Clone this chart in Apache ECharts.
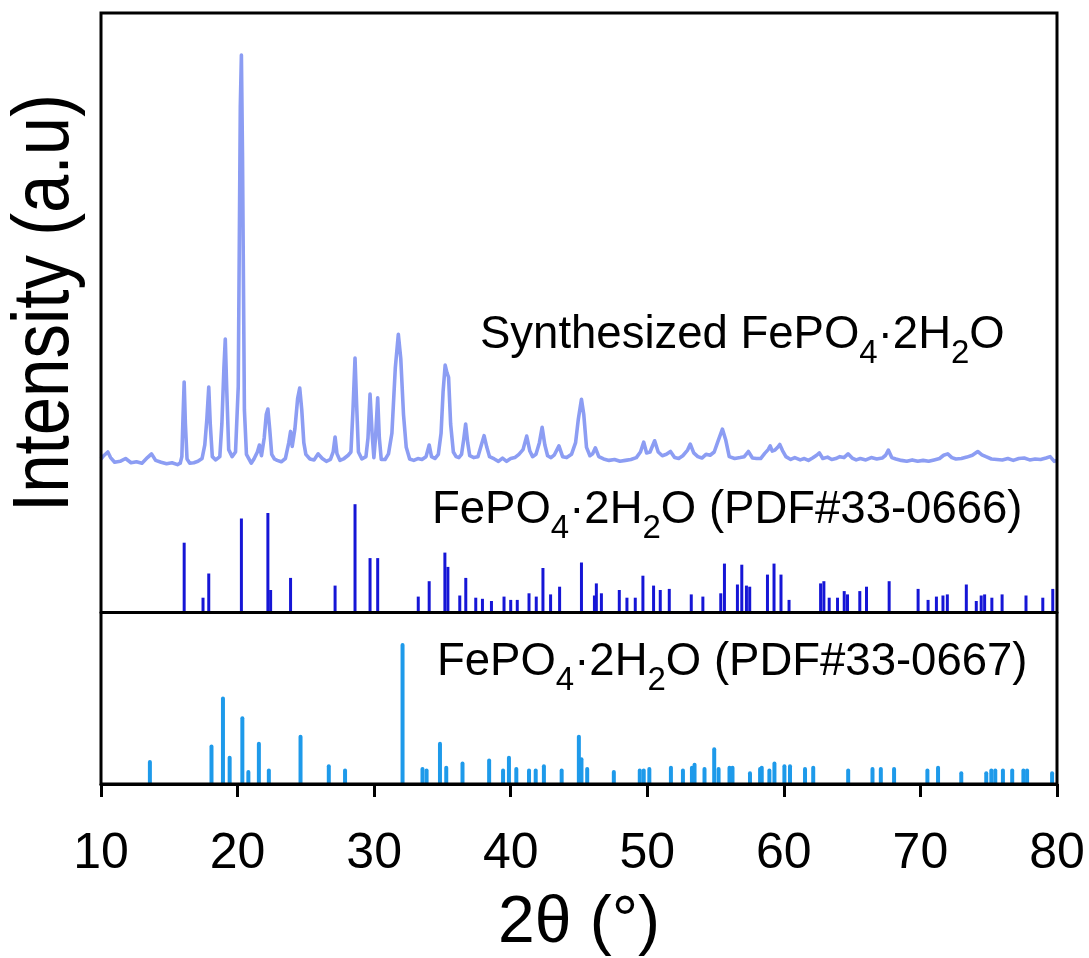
<!DOCTYPE html>
<html>
<head>
<meta charset="utf-8">
<script src="https://cdn.jsdelivr.net/npm/echarts@6/dist/echarts.min.js"></script>
<style>html,body{margin:0;padding:0;background:#fff}#c{width:1089px;height:958px}</style>
</head>
<body>
<div id="c"></div>
<script>
// ---------- data ----------
const xTicks = [10, 20, 30, 40, 50, 60, 70, 80];

// Synthesized FePO4·2H2O pattern: [2θ, intensity]
const xrdPattern = [
[10.0,4.5],[10.2,5.2],[10.5,6.0],[10.7,4.8],[11.0,3.8],[11.4,4.0],[11.8,4.6],[12.2,3.7],[12.6,3.9],[13.0,3.6],
[13.4,4.8],[13.7,5.6],[14.0,4.2],[14.4,3.8],[14.8,3.5],[15.2,3.7],[15.6,3.3],[15.8,3.6],
[15.92,5.0],[16.0,13],[16.09,21.0],[16.18,12],[16.3,4.5],[16.5,3.6],[16.8,3.7],[17.1,4.0],[17.4,4.6],
[17.6,7.5],[17.75,13],[17.89,19.9],[18.0,12],[18.15,5.0],[18.4,4.3],[18.7,5.0],[18.85,12],
[19.0,24],[19.1,30.2],[19.2,20],[19.35,6.5],[19.6,5.0],[19.85,6.0],[20.05,20],[20.2,80],[20.28,91.0],[20.36,70],
[20.5,15],[20.65,5.5],[20.8,4.7],[21.0,3.6],[21.2,4.5],[21.45,6.0],[21.6,7.5],[21.75,5.2],[21.95,9],[22.1,14],
[22.22,15.2],[22.35,11],[22.5,5.5],[22.7,4.5],[22.9,4.2],[23.2,3.9],[23.5,4.6],[23.75,8.0],[23.88,10.4],[24.0,7.2],
[24.2,11],[24.4,17.5],[24.55,19.7],[24.7,15],[24.85,8],[25.0,5.5],[25.3,4.5],[25.6,4.3],[25.9,5.6],[26.2,4.6],
[26.5,4.0],[26.8,4.4],[27.0,6.0],[27.14,9.2],[27.28,5.6],[27.5,4.2],[27.8,4.6],[28.1,5.3],[28.3,6.0],[28.45,15],
[28.6,26.1],[28.72,16],[28.85,6.0],[29.1,4.5],[29.4,5.0],[29.55,9],[29.7,18.4],[29.85,10],[29.98,4.8],[30.1,9],
[30.26,17.6],[30.38,9],[30.52,4.4],[30.8,4.4],[31.05,5.6],[31.3,10],[31.55,24],[31.77,31.2],[31.95,26],[32.15,14],
[32.35,7],[32.6,4.5],[32.9,4.2],[33.2,4.6],[33.5,4.4],[33.8,5.0],[34.03,7.5],[34.2,5.0],[34.45,4.6],[34.7,5.5],
[34.9,10],[35.05,19],[35.2,24.6],[35.33,23],[35.45,22],[35.6,12],[35.8,6.0],[36.0,5.0],[36.2,4.8],[36.4,5.5],
[36.55,8.5],[36.7,12.0],[36.85,8.0],[37.0,5.2],[37.3,4.8],[37.6,5.0],[37.85,7.5],[38.05,9.5],[38.25,7],[38.45,5.0],
[38.8,4.5],[39.1,4.0],[39.4,4.7],[39.7,4.0],[40.0,4.6],[40.3,4.8],[40.6,5.5],[40.9,6.5],[41.17,9.4],[41.4,6.2],
[41.6,5.0],[41.85,5.5],[42.1,8],[42.3,11.3],[42.5,7.5],[42.7,5.2],[42.95,4.8],[43.2,5.4],[43.53,7.3],[43.8,5.0],
[44.1,4.8],[44.45,5.5],[44.75,8],[44.95,13],[45.18,17.3],[45.35,14],[45.55,7],[45.8,5.2],[46.0,5.6],[46.2,6.9],
[46.45,5.0],[46.8,4.5],[47.2,4.2],[47.6,4.4],[48.0,4.0],[48.4,4.2],[48.8,4.4],[49.2,4.8],[49.5,6.0],[49.74,8.1],
[49.95,5.8],[50.2,6.0],[50.54,8.4],[50.8,6.0],[51.1,5.2],[51.4,5.5],[51.7,6.1],[52.0,4.8],[52.3,4.6],[52.6,5.2],
[52.95,6.4],[53.15,7.7],[53.4,5.8],[53.7,5.0],[54.0,4.7],[54.3,5.5],[54.6,5.3],[54.9,6.0],[55.2,8.5],[55.5,10.9],
[55.75,8.5],[56.0,5.0],[56.4,4.6],[56.8,4.8],[57.1,5.0],[57.4,6.1],[57.7,4.7],[58.0,4.6],[58.3,4.6],[58.6,5.7],
[58.85,6.5],[59.0,7.3],[59.15,6.2],[59.35,6.4],[59.55,7.0],[59.7,7.6],[59.9,6.3],[60.15,5.0],[60.5,4.4],[60.8,4.8],
[61.2,4.3],[61.5,4.6],[61.8,4.2],[62.1,4.7],[62.4,5.3],[62.6,5.8],[62.85,4.6],[63.2,4.9],[63.5,4.4],[63.8,4.6],
[64.1,5.0],[64.4,4.8],[64.7,5.6],[65.0,4.7],[65.3,4.3],[65.6,4.6],[66.0,4.3],[66.4,4.8],[66.8,4.5],[67.2,4.7],
[67.45,5.3],[67.65,6.4],[67.9,4.8],[68.2,4.5],[68.6,4.2],[69.0,4.0],[69.4,4.3],[69.8,4.0],[70.2,4.2],[70.6,4.0],
[71.0,4.3],[71.4,4.6],[71.7,5.3],[72.0,5.6],[72.3,4.8],[72.6,4.5],[73.0,4.6],[73.4,4.9],[73.8,5.3],[74.2,6.1],
[74.5,5.4],[74.8,5.0],[75.2,4.5],[75.6,4.4],[76.0,4.3],[76.4,4.6],[76.8,4.2],[77.2,4.6],[77.6,4.7],[78.0,4.3],
[78.4,4.5],[78.8,4.4],[79.2,4.7],[79.5,5.0],[79.8,4.0],[80.0,4.2]
];

// PDF#33-0666 reference lines: [2θ, relative intensity]
const pdf0666 = [
[16.09,63],[17.47,13],[17.89,35],[20.28,85],[22.22,90],[22.42,20],[23.88,31],[27.14,24],[28.60,98],[29.70,49],
[30.26,49],[33.23,14],[34.03,28],[35.18,54],[35.40,41],[36.27,15],[36.71,31],[37.44,13],[37.93,12],[38.59,10],
[39.51,14],[40.00,11],[40.48,11],[41.34,17],[41.87,14],[42.36,40],[42.92,16],[43.58,23],[45.18,45],[46.13,15],
[46.27,26],[46.64,17],[47.95,20],[48.51,13],[49.12,13],[49.68,33],[50.46,24],[50.95,20],[51.61,21],[53.22,16],
[54.07,14],[55.38,17],[55.65,44],[56.60,25],[56.92,43],[57.26,24],[57.50,23],[58.80,34],[59.28,44],[59.79,34],
[60.38,11],[62.69,26],[62.93,28],[63.32,13],[63.93,13],[64.42,19],[64.66,16],[65.56,19],[66.05,23],[67.71,28],
[69.83,21],[70.56,11],[71.17,14],[71.65,15],[71.97,16],[73.36,25],[74.09,10],[74.45,15],[74.70,16],[75.23,13],
[75.98,16],[77.73,15],[78.96,13],[79.69,21]
];

// PDF#33-0667 reference lines: [2θ, relative intensity]
const pdf0667 = [
[13.58,17],[18.09,28],[18.93,62],[19.42,20],[20.35,48],[20.79,10],[21.56,30],[22.29,11],[24.61,35],[26.68,14],
[27.87,11],[32.08,100],[33.54,12],[33.84,11],[34.82,30],[35.28,13],[36.47,16],[38.42,18],[39.44,11],[39.87,20],
[40.41,12],[41.34,11],[41.83,11],[42.43,14],[43.73,11],[44.99,35],[45.18,19],[45.60,12],[47.55,10],[49.45,11],
[49.74,11],[50.15,12],[51.73,13],[52.61,11],[53.27,13],[53.46,15],[54.19,12],[54.90,26],[55.22,12],[56.02,13],
[56.24,13],[57.52,9],[58.26,12],[58.38,13],[58.94,11],[59.31,16],[60.04,14],[60.45,14],[61.55,12],[62.15,13],
[64.71,11],[66.49,12],[67.10,12],[68.07,12],[70.51,11],[71.29,13],[72.99,9],[74.82,9],[75.19,11],[75.48,11],
[76.04,11],[76.72,11],[77.54,11],[77.81,11],[79.64,9]
];

const labelSynth = ['Synthesized FePO', '4', '·2H', '2', 'O'];
const label0666 = ['FePO', '4', '·2H', '2', 'O (PDF#33-0666)'];
const label0667 = ['FePO', '4', '·2H', '2', 'O (PDF#33-0667)'];
const xName = '2θ (°)';
const yName = 'Intensity (a.u)';

// ---------- chart ----------
const FONT = '"Liberation Sans", Arial, Helvetica, sans-serif';
const chart = echarts.init(document.getElementById('c'), null, {renderer: 'canvas'});

function richLabel(parts) {
  return '{m|' + parts[0] + '}{s|' + parts[1] + '}{m|' + parts[2] + '}{s|' + parts[3] + '}{m|' + parts[4] + '}';
}
const rich = {
  m: {fontSize: 45.5, lineHeight: 58, fontFamily: FONT, fill: '#000'},
  s: {fontSize: 33, lineHeight: 58, fontFamily: FONT, fill: '#000', padding: [38, 0, 0, 0]}
};

const L = 101, R = 32;
const xBase = {type: 'value', min: 10, max: 80, interval: 10};
const gBase = {left: L, right: R, containLabel: false, outerBoundsMode: 'none'};

chart.setOption({
  animation: false,
  backgroundColor: '#fff',
  grid: [
    Object.assign({}, gBase, {top: 13, height: 467}),
    Object.assign({}, gBase, {top: 480, height: 132}),
    Object.assign({}, gBase, {top: 612, height: 172}),
    Object.assign({}, gBase, {top: 13, height: 771, show: true, borderColor: '#000', borderWidth: 3, backgroundColor: 'transparent', z: 10})
  ],
  xAxis: [
    Object.assign({}, xBase, {gridIndex: 0, show: false}),
    Object.assign({}, xBase, {gridIndex: 1, z: 10,
      axisLine: {show: true, onZero: false, lineStyle: {color: '#000', width: 3}},
      axisTick: {show: false}, axisLabel: {show: false}, splitLine: {show: false}}),
    Object.assign({}, xBase, {gridIndex: 2, z: 10,
      axisLine: {show: true, onZero: false, lineStyle: {color: '#000', width: 3}},
      axisTick: {show: true, inside: false, length: 13, lineStyle: {color: '#000', width: 3}},
      axisLabel: {show: true, margin: 45, color: '#000', fontSize: 50, fontFamily: FONT,
        formatter: v => xTicks.indexOf(v) >= 0 ? String(v) : ''},
      splitLine: {show: false},
      name: xName, nameLocation: 'middle', nameGap: 107,
      nameTextStyle: {fontSize: 66, color: '#000', fontFamily: FONT}}),
    Object.assign({}, xBase, {gridIndex: 3, show: false})
  ],
  yAxis: [
    {type: 'value', gridIndex: 0, min: 0, max: 100, show: false},
    {type: 'value', gridIndex: 1, min: 0, max: 120, show: false},
    {type: 'value', gridIndex: 2, min: 0, max: 122, show: false},
    {type: 'value', gridIndex: 3, min: 0, max: 1, show: false}
  ],
  series: [
    {type: 'line', xAxisIndex: 0, yAxisIndex: 0, data: xrdPattern, showSymbol: false, symbol: 'none',
      lineStyle: {color: '#8c9df3', width: 3.6, join: 'round'}, z: 3},
    {type: 'bar', xAxisIndex: 1, yAxisIndex: 1, data: pdf0666, barWidth: 3,
      itemStyle: {color: '#1616d6'}},
    {type: 'bar', xAxisIndex: 2, yAxisIndex: 2, data: pdf0667, barWidth: 4,
      itemStyle: {color: '#1e9aea', borderRadius: [2, 2, 0, 0]}}
  ],
  graphic: [
    {type: 'text', x: 480, y: 306, z: 100,
      style: {text: richLabel(labelSynth), rich: rich, fontFamily: FONT, verticalAlign: 'top', align: 'left'}},
    {type: 'text', x: 432, y: 481, z: 100,
      style: {text: richLabel(label0666), rich: rich, fontFamily: FONT, verticalAlign: 'top', align: 'left'}},
    {type: 'text', x: 437, y: 633, z: 100,
      style: {text: richLabel(label0667), rich: rich, fontFamily: FONT, verticalAlign: 'top', align: 'left'}},
    {type: 'text', x: 46, y: 303, rotation: Math.PI / 2, scaleY: 1.15, z: 100,
      style: {text: yName, fontSize: 69, fontFamily: FONT, fill: '#000', align: 'center', verticalAlign: 'middle'}}
  ]
});
</script>
</body>
</html>
